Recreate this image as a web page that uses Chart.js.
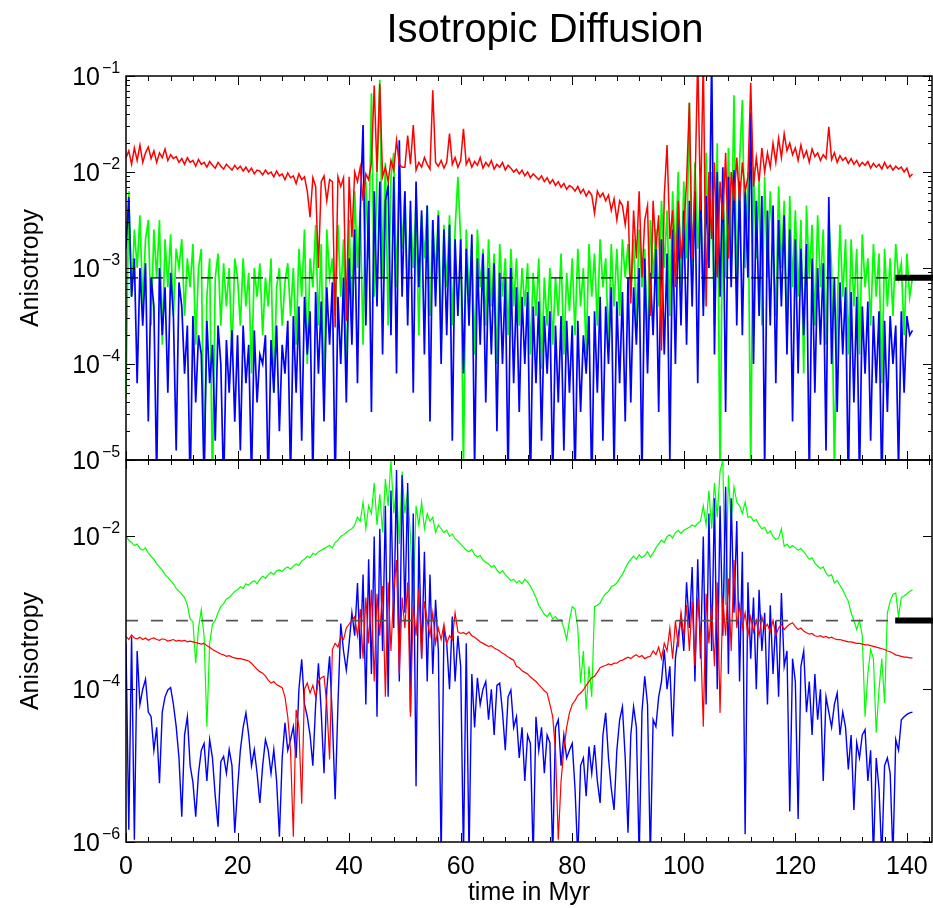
<!DOCTYPE html>
<html>
<head>
<meta charset="utf-8">
<title>Isotropic Diffusion</title>
<script src="https://cdn.jsdelivr.net/npm/chart.js@4.4.1/dist/chart.umd.min.js"></script>
<style>
  html, body { margin: 0; padding: 0; background: #fff; }
  #wrap { position: relative; width: 933px; height: 908px; }
  #wrap canvas { position: absolute; left: 0; top: 0; }
</style>
</head>
<body>
<div id="wrap">
  <canvas id="topChart" width="933" height="908"></canvas>
  <canvas id="bottomChart" width="933" height="908"></canvas>
</div>
<script>
// samples every 0.5 Myr from 0 to 141 Myr, values are log10(anisotropy)
const sampleStep = 0.5;
const xTickLabels = [0, 20, 40, 60, 80, 100, 120, 140];
const topDecades = [-5, -4, -3, -2, -1];
const bottomDecades = [-6, -4, -2];
const thresholdLevel = 7.9e-4;

const topRed = [
  -1.85,-1.78,-1.92,-1.75,-1.88,-1.72,-1.9,-1.8,-1.74,-1.86,-1.78,-1.9,-1.8,-1.85,-1.76,-1.88,-1.82,-1.86,-1.84,-1.9,
  -1.86,-1.92,-1.85,-1.9,-1.88,-1.94,-1.87,-1.92,-1.9,-1.95,-1.89,-1.93,-1.96,-1.9,-1.94,-1.97,-1.92,-1.95,-1.98,-1.93,
  -1.97,-1.94,-1.99,-1.95,-2.0,-1.96,-2.02,-1.98,-1.99,-2.03,-1.98,-2.02,-2.0,-2.05,-1.99,-2.04,-2.02,-2.08,-2.01,-2.06,
  -2.04,-2.12,-2.02,-2.08,-2.05,-2.2,-2.47,-2.06,-2.15,-3.0,-2.1,-2.04,-2.3,-2.08,-2.1,-3.62,-2.05,-2.15,-2.06,-3.55,
  -2.05,-2.68,-2.0,-2.1,-1.95,-2.3,-2.02,-2.08,-1.9,-1.1,-2.0,-1.08,-2.05,-1.95,-2.1,-1.88,-1.98,-1.67,-1.92,-1.95,
  -1.95,-1.62,-1.92,-1.51,-1.98,-1.9,-1.95,-1.85,-1.92,-1.97,-1.15,-1.9,-1.94,-1.88,-1.96,-1.9,-1.6,-1.92,-1.85,-1.95,
  -1.88,-1.55,-1.92,-1.86,-1.95,-1.89,-1.93,-1.85,-1.96,-1.9,-1.94,-1.88,-1.97,-1.92,-1.95,-1.9,-1.98,-1.93,-1.96,-2.0,
  -1.97,-2.02,-1.98,-2.04,-2.0,-2.06,-2.02,-2.05,-2.08,-2.04,-2.1,-2.06,-2.12,-2.08,-2.14,-2.1,-2.16,-2.12,-2.18,-2.14,
  -2.16,-2.2,-2.15,-2.22,-2.18,-2.25,-2.2,-2.24,-2.43,-2.2,-2.26,-2.22,-2.3,-2.24,-2.4,-2.28,-2.5,-2.3,-2.35,-2.55,
  -2.3,-3.37,-2.4,-2.9,-2.2,-3.1,-2.5,-2.35,-3.5,-2.3,-2.8,-2.45,-3.86,-2.25,-1.72,-2.7,-2.4,-3.2,-2.3,-2.9,
  -2.6,-2.1,-1.28,-2.9,-2.2,-0.8,-2.4,-0.8,-3.4,-2.0,-2.7,-1.9,-3.1,-2.1,-2.5,-1.8,-2.9,-2.0,-2.3,-1.85,
  -2.3,-1.9,-2.2,-2.05,-1.07,-2.15,-1.85,-2.1,-1.75,-2.0,-1.8,-1.95,-1.7,-1.9,-1.65,-1.85,-1.6,-1.78,-1.7,-1.82,
  -1.75,-1.88,-1.72,-1.85,-1.78,-1.9,-1.76,-1.84,-1.8,-1.88,-1.82,-1.86,-1.53,-1.87,-1.8,-1.9,-1.83,-1.88,-1.85,-1.91,
  -1.86,-1.92,-1.88,-1.94,-1.9,-1.93,-1.89,-1.96,-1.91,-1.95,-1.92,-1.97,-1.9,-1.96,-1.93,-1.98,-1.94,-1.97,-1.95,-2.0,
  -1.96,-2.05,-2.02
];

const topGreen = [
  -4.35,-2.2,-3.3,-2.6,-3.0,-2.45,-3.4,-2.7,-2.5,-3.6,-2.6,-3.1,-2.5,-3.8,-2.7,-3.2,-2.65,-3.5,-2.8,-3.0,
  -2.7,-3.5,-2.9,-3.2,-2.75,-3.8,-3.0,-2.8,-5.2,-3.3,-2.9,-5.3,-3.1,-2.85,-3.6,-2.95,-3.4,-3.0,-3.9,-2.9,
  -3.1,-3.6,-2.9,-3.4,-3.05,-4.1,-3.0,-3.3,-2.95,-3.7,-3.1,-3.4,-2.9,-4.3,-3.2,-3.0,-3.6,-3.15,-2.95,-3.5,
  -3.0,-3.8,-2.8,-3.3,-2.6,-4.0,-2.9,-3.2,-2.55,-3.6,-2.75,-4.4,-2.6,-3.1,-2.9,-3.5,-2.55,-3.3,-2.7,-4.2,
  -2.5,-3.5,-2.2,-3.0,-2.4,-3.8,-2.1,-2.9,-1.18,-3.3,-2.0,-1.04,-3.1,-1.9,-3.6,-2.05,-1.8,-3.2,-2.0,-2.8,
  -2.2,-3.4,-2.4,-3.0,-2.3,-3.7,-2.45,-2.9,-2.35,-3.5,-2.5,-3.1,-2.4,-3.8,-2.55,-3.2,-2.45,-3.6,-2.6,-2.05,
  -2.7,-5.1,-2.6,-3.3,-2.75,-3.9,-2.6,-3.2,-2.8,-3.6,-2.7,-3.4,-2.85,-4.0,-2.75,-3.3,-2.9,-3.7,-2.8,-3.4,
  -2.9,-3.6,-3.0,-3.4,-2.95,-3.9,-3.05,-3.5,-2.9,-4.05,-3.1,-3.6,-3.0,-3.8,-3.1,-3.5,-2.85,-3.9,-3.05,-3.45,
  -2.9,-3.7,-2.8,-3.4,-3.0,-3.9,-2.75,-3.3,-2.85,-3.6,-2.7,-3.2,-2.9,-3.8,-2.75,-3.4,-2.8,-3.5,-2.7,-3.1,
  -2.75,-3.3,-2.7,-3.6,-2.6,-3.2,-2.8,-3.9,-2.5,-3.1,-2.6,-3.4,-2.3,-3.0,-2.4,-3.5,-2.2,-2.9,-2.0,-3.2,
  -2.1,-2.9,-1.28,-3.2,-1.9,-2.8,-2.2,-3.4,-1.8,-3.0,-2.0,-3.6,-1.7,-5.2,-2.1,-3.1,-1.75,-2.9,-1.2,-3.3,
  -1.9,-1.25,-3.0,-2.0,-5.1,-1.95,-2.9,-2.1,-3.6,-2.05,-3.1,-2.2,-2.8,-3.5,-2.15,-3.0,-2.3,-3.7,-2.25,-3.2,
  -2.4,-3.3,-2.5,-4.1,-2.35,-3.1,-2.55,-3.6,-2.45,-3.2,-2.6,-3.8,-2.5,-3.0,-5.1,-3.5,-2.55,-3.3,-2.7,-3.9,
  -2.7,-3.4,-2.8,-3.9,-2.65,-3.2,-2.9,-3.6,-2.75,-3.3,-2.85,-4.2,-2.8,-3.4,-2.9,-3.5,-2.75,-3.1,-2.95,-3.7,
  -2.85,-3.3,-3.1
];

const topBlue = [
  -2.8,-2.26,-3.3,-2.9,-4.2,-3.0,-3.6,-2.95,-4.6,-3.1,-3.4,-5.2,-3.0,-3.7,-3.2,-4.3,-3.05,-3.5,-4.9,-3.15,
  -3.4,-4.1,-3.6,-5.3,-3.5,-4.4,-3.7,-3.9,-5.2,-3.55,-4.2,-3.8,-4.8,-3.6,-4.0,-5.3,-3.75,-4.3,-3.65,-4.6,
  -3.7,-4.9,-3.6,-4.2,-3.8,-5.2,-3.65,-4.4,-3.9,-4.0,-3.7,-5.3,-3.75,-4.3,-3.6,-4.7,-3.8,-4.1,-3.55,-5.2,
  -3.5,-4.3,-3.4,-4.8,-3.3,-3.9,-3.45,-5.2,-3.25,-4.1,-3.35,-4.6,-3.2,-3.8,-3.15,-5.3,-3.3,-4.0,-3.1,-4.4,
  -2.9,-3.8,-2.6,-4.2,-2.4,-1.51,-3.6,-2.3,-4.5,-2.2,-3.4,-2.1,-3.9,-2.3,-2.15,-3.7,-2.05,-4.1,-1.67,-3.3,
  -2.2,-3.6,-2.3,-4.3,-2.1,-3.2,-2.4,-3.9,-2.35,-4.6,-2.5,-3.4,-2.45,-4.0,-2.6,-3.7,-2.55,-4.8,-2.7,-3.5,
  -2.7,-4.1,-2.8,-3.6,-2.65,-5.1,-2.9,-3.8,-2.85,-4.4,-3.0,-3.9,-2.95,-4.7,-3.05,-4.0,-3.1,-5.2,-3.0,-4.2,
  -3.2,-4.5,-3.3,-4.0,-3.25,-5.3,-3.4,-4.2,-3.35,-4.8,-3.5,-4.1,-3.45,-5.2,-3.6,-4.4,-3.5,-4.9,-3.55,-4.3,
  -3.6,-5.2,-3.55,-4.5,-3.7,-4.1,-3.5,-5.3,-3.45,-4.3,-3.3,-4.8,-3.4,-4.0,-3.2,-5.1,-3.35,-4.2,-3.25,-4.6,
  -3.1,-4.4,-3.2,-3.8,-3.0,-5.2,-2.9,-4.1,-3.05,-3.7,-2.8,-4.5,-2.7,-3.9,-2.85,-5.0,-2.6,-4.0,-2.5,-3.6,
  -2.4,-3.8,-2.3,-3.4,-2.2,-4.2,-2.1,-3.5,-2.25,-3.0,-0.8,-3.9,-2.0,-3.3,-1.95,-4.5,-2.05,-3.2,-1.98,-3.6,
  -2.1,-3.7,-2.2,-3.1,-1.38,-4.0,-2.3,-3.5,-2.25,-5.1,-2.4,-3.6,-2.35,-4.2,-2.5,-3.4,-2.45,-3.9,-2.6,-4.6,
  -2.7,-4.1,-2.8,-3.7,-2.75,-5.2,-2.9,-4.3,-3.0,-3.8,-2.95,-4.9,-2.26,-4.0,-3.1,-4.5,-3.15,-3.9,-3.2,-5.3,
  -3.25,-4.4,-3.3,-5.2,-3.4,-4.1,-3.35,-4.8,-3.5,-4.2,-3.45,-5.3,-3.55,-4.5,-3.5,-4.0,-3.6,-5.1,-3.45,-4.3,
  -3.5,-3.7,-3.65
];

const bottomGreen = [
  -2.0,-2.05,-2.08,-2.12,-2.1,-2.16,-2.18,-2.15,-2.22,-2.26,-2.3,-2.36,-2.4,-2.44,-2.5,-2.54,-2.58,-2.62,-2.68,-2.72,
  -2.76,-2.8,-2.9,-3.08,-3.12,-3.66,-3.2,-2.96,-3.31,-4.49,-3.4,-3.15,-3.1,-3.0,-2.92,-2.88,-2.82,-2.8,-2.76,-2.72,
  -2.7,-2.66,-2.68,-2.62,-2.64,-2.6,-2.58,-2.62,-2.56,-2.52,-2.55,-2.5,-2.47,-2.5,-2.45,-2.44,-2.46,-2.42,-2.4,-2.43,
  -2.39,-2.36,-2.38,-2.32,-2.3,-2.26,-2.28,-2.22,-2.24,-2.2,-2.18,-2.16,-2.14,-2.12,-2.15,-2.08,-2.05,-2.0,-1.98,-1.95,
  -1.92,-1.9,-1.85,-1.75,-1.8,-1.55,-1.9,-1.6,-1.7,-1.3,-1.85,-1.45,-1.95,-1.25,-1.6,-1.0,-1.7,-1.35,-2.1,-1.15,
  -1.7,-1.4,-2.0,-2.9,-1.6,-1.85,-1.55,-1.9,-1.7,-1.8,-1.75,-1.95,-1.85,-1.9,-1.95,-1.92,-2.0,-1.97,-2.03,-2.06,
  -2.1,-2.14,-2.18,-2.2,-2.17,-2.24,-2.27,-2.25,-2.31,-2.34,-2.36,-2.4,-2.38,-2.44,-2.48,-2.45,-2.5,-2.54,-2.58,-2.56,
  -2.61,-2.58,-2.62,-2.56,-2.6,-2.65,-2.72,-2.8,-2.9,-2.96,-3.02,-3.05,-3.0,-3.08,-3.05,-3.1,-3.09,-3.2,-3.35,-3.1,
  -2.92,-2.95,-3.2,-3.92,-3.5,-4.27,-3.7,-4.1,-2.92,-2.9,-2.87,-2.8,-2.75,-2.72,-2.66,-2.64,-2.61,-2.55,-2.5,-2.42,
  -2.35,-2.3,-2.26,-2.3,-2.24,-2.28,-2.25,-2.2,-2.27,-2.22,-2.15,-2.1,-2.05,-2.08,-2.0,-1.98,-2.02,-1.95,-1.92,-1.96,
  -1.92,-1.9,-1.88,-1.85,-1.87,-1.83,-1.8,-1.6,-1.85,-1.4,-1.9,-1.3,-1.75,-1.15,-1.0,-2.9,-1.2,-1.8,-1.35,-1.55,
  -1.6,-1.7,-1.55,-1.75,-1.74,-1.8,-1.78,-1.85,-1.9,-1.88,-1.96,-1.93,-2.0,-2.04,-2.02,-1.9,-2.13,-2.1,-2.15,-2.12,
  -2.15,-2.18,-2.16,-2.2,-2.25,-2.3,-2.28,-2.35,-2.39,-2.42,-2.4,-2.48,-2.52,-2.5,-2.61,-2.58,-2.64,-2.7,-2.78,-2.85,
  -3.0,-3.1,-3.22,-3.1,-3.3,-4.36,-3.8,-3.48,-3.6,-4.57,-4.0,-3.6,-4.18,-3.0,-2.85,-2.76,-2.74,-3.05,-2.8,-2.78,
  -2.75,-2.72,-2.7
];

const bottomRed = [
  -3.31,-3.35,-3.29,-3.33,-3.34,-3.32,-3.35,-3.33,-3.36,-3.34,-3.33,-3.35,-3.36,-3.34,-3.35,-3.37,-3.36,-3.35,-3.37,-3.36,
  -3.37,-3.36,-3.38,-3.37,-3.38,-3.39,-3.4,-3.41,-3.4,-3.43,-3.45,-3.48,-3.5,-3.52,-3.54,-3.55,-3.57,-3.56,-3.58,-3.59,
  -3.6,-3.6,-3.61,-3.62,-3.63,-3.66,-3.7,-3.74,-3.77,-3.79,-3.83,-3.88,-3.92,-3.9,-3.94,-3.96,-3.98,-4.1,-4.36,-4.8,
  -5.93,-4.27,-4.5,-5.5,-4.0,-3.92,-4.05,-3.95,-4.1,-3.9,-3.85,-3.83,-4.2,-4.92,-3.48,-3.4,-3.45,-3.31,-3.35,-3.2,
  -3.15,-3.1,-3.05,-3.3,-2.95,-3.6,-2.8,-3.4,-2.7,-3.9,-2.75,-3.3,-2.65,-4.1,-2.6,-3.5,-2.7,-2.31,-3.8,-2.8,
  -3.2,-2.6,-4.36,-2.9,-3.3,-2.7,-3.6,-2.85,-3.1,-3.3,-3.0,-3.4,-3.2,-3.35,-3.15,-3.4,-3.3,-3.35,-3.0,-3.25,
  -3.27,-3.26,-3.28,-3.25,-3.3,-3.32,-3.35,-3.38,-3.4,-3.42,-3.44,-3.43,-3.46,-3.48,-3.5,-3.53,-3.55,-3.58,-3.6,-3.62,
  -3.7,-3.72,-3.76,-3.78,-3.8,-3.84,-3.87,-3.9,-3.94,-3.98,-4.02,-4.05,-4.2,-4.36,-4.8,-5.97,-5.2,-4.79,-4.5,-4.31,
  -4.2,-4.15,-4.08,-4.05,-4.01,-3.95,-3.9,-3.85,-3.83,-3.78,-3.72,-3.7,-3.69,-3.67,-3.68,-3.66,-3.66,-3.63,-3.62,-3.6,
  -3.58,-3.6,-3.57,-3.55,-3.58,-3.56,-3.6,-3.58,-3.57,-3.5,-3.55,-3.45,-3.6,-3.4,-3.5,-3.2,-3.6,-3.1,-3.45,-3.0,
  -3.3,-2.9,-3.5,-2.85,-3.7,-2.8,-3.3,-4.49,-2.75,-3.4,-2.9,-3.7,-2.6,-4.31,-2.8,-3.3,-2.55,-3.5,-2.31,-3.2,
  -2.9,-3.2,-3.0,-3.3,-3.05,-3.25,-3.1,-3.3,-3.05,-3.2,-3.15,-3.25,-3.1,-3.3,-3.2,-3.15,-3.22,-3.18,-3.15,-3.13,
  -3.18,-3.22,-3.2,-3.24,-3.26,-3.28,-3.27,-3.3,-3.31,-3.3,-3.32,-3.31,-3.33,-3.32,-3.34,-3.35,-3.35,-3.36,-3.37,-3.38,
  -3.38,-3.39,-3.4,-3.4,-3.41,-3.42,-3.42,-3.43,-3.44,-3.45,-3.46,-3.47,-3.48,-3.5,-3.51,-3.53,-3.55,-3.56,-3.57,-3.58,
  -3.58,-3.59,-3.59
];

const bottomBlue = [
  -3.4,-5.84,-3.31,-5.97,-3.5,-4.2,-4.0,-3.87,-4.3,-4.36,-4.8,-4.5,-5.23,-4.3,-4.1,-4.01,-3.98,-4.2,-4.49,-4.9,
  -5.67,-4.6,-4.36,-5.0,-5.22,-5.67,-5.1,-4.8,-4.71,-5.2,-4.66,-4.9,-5.4,-5.8,-4.95,-4.88,-5.1,-4.79,-5.0,-5.88,
  -5.3,-4.8,-4.5,-4.31,-4.6,-5.0,-4.79,-5.1,-5.49,-5.0,-4.66,-4.8,-5.1,-4.79,-5.2,-5.93,-4.9,-4.44,-4.8,-4.66,
  -4.49,-4.9,-4.0,-3.61,-4.2,-4.36,-4.6,-5.0,-4.2,-3.66,-4.3,-5.1,-4.0,-3.57,-4.4,-5.44,-4.2,-3.14,-3.5,-3.75,
  -3.4,-3.0,-3.3,-2.61,-3.6,-2.5,-4.2,-2.3,-3.8,-2.0,-4.36,-1.9,-3.5,-1.6,-4.1,-1.4,-3.2,-1.13,-3.9,-1.2,
  -3.0,-1.3,-4.3,-1.7,-5.27,-2.0,-3.6,-2.2,-3.9,-2.5,-3.8,-2.83,-3.5,-6.2,-3.2,-3.4,-4.0,-3.05,-3.9,-3.3,
  -3.7,-6.2,-3.4,-6.2,-3.8,-4.5,-3.85,-4.2,-4.0,-3.9,-4.4,-4.0,-4.6,-3.95,-3.92,-4.3,-4.8,-4.1,-4.01,-4.5,
  -4.36,-4.9,-4.5,-5.2,-4.6,-4.71,-6.2,-4.36,-4.8,-4.5,-5.1,-4.6,-4.7,-6.2,-4.5,-4.4,-5.0,-4.6,-4.9,-4.8,
  -4.71,-5.3,-6.2,-5.0,-4.9,-5.4,-4.75,-5.1,-4.73,-5.2,-5.49,-4.6,-4.31,-4.9,-5.3,-5.58,-4.8,-4.4,-4.23,-4.9,
  -5.88,-4.6,-4.23,-4.5,-6.2,-4.3,-3.83,-4.2,-6.2,-4.4,-4.49,-4.1,-3.9,-3.48,-4.0,-3.7,-4.62,-3.6,-3.3,-3.05,
  -3.5,-2.6,-3.2,-2.4,-3.9,-2.3,-3.6,-2.0,-4.2,-1.7,-3.5,-1.5,-4.0,-1.6,-3.3,-1.35,-3.8,-1.5,-3.0,-1.8,
  -3.9,-2.2,-5.9,-2.6,-3.6,-2.8,-4.0,-2.7,-3.5,-3.0,-4.2,-2.9,-3.8,-3.1,-4.1,-2.74,-3.7,-3.5,-5.6,-3.6,
  -3.9,-5.7,-3.7,-3.5,-4.3,-3.9,-4.6,-3.8,-4.4,-4.0,-5.2,-4.1,-4.3,-4.5,-4.2,-4.05,-4.6,-4.3,-4.5,-5.05,
  -4.6,-5.58,-4.7,-4.9,-4.6,-4.53,-5.2,-4.8,-6.2,-4.9,-5.3,-6.2,-5.0,-4.9,-5.1,-6.2,-4.66,-4.8,-4.4,-4.36,
  -4.33,-4.31,-4.3
];

const FONT = '"Liberation Sans", Arial, Helvetica, sans-serif';
const X_MAX = 144.5;
const BAR_START = 137.9;

function toPoints(logValues) {
    return logValues.map((v, i) => ({ x: i * sampleStep, y: Math.pow(10, v) }));
}

function seriesLine(label, values, color, width) {
    return {
        label: label,
        data: toPoints(values),
        borderColor: color,
        borderWidth: width,
        pointRadius: 0,
        tension: 0,
        fill: false
    };
}

function thresholdSets(dashColor, dashWidth) {
    return [
        {
            label: "threshold",
            data: [{ x: 0, y: thresholdLevel }, { x: BAR_START, y: thresholdLevel }],
            borderColor: dashColor,
            borderWidth: dashWidth,
            borderDash: [12, 13],
            pointRadius: 0
        },
        {
            label: "threshold bar",
            data: [{ x: BAR_START, y: thresholdLevel }, { x: 147, y: thresholdLevel }],
            borderColor: "#000",
            borderWidth: 6,
            borderCapStyle: "butt",
            pointRadius: 0,
            clip: false
        }
    ];
}

function drawPowerLabel(ctx, x, y, exp) {
    ctx.fillStyle = "#000";
    ctx.font = "25px " + FONT;
    ctx.textAlign = "right";
    ctx.textBaseline = "alphabetic";
    ctx.fillText("10", x, y + 9);
    ctx.font = "16px " + FONT;
    ctx.textAlign = "left";
    ctx.fillText("\u2212" + Math.abs(exp), x + 2, y - 3);
}

function drawYLabel(ctx, centerY) {
    ctx.save();
    ctx.translate(38, centerY);
    ctx.rotate(-Math.PI / 2);
    ctx.fillStyle = "#000";
    ctx.font = "25px " + FONT;
    ctx.textAlign = "center";
    ctx.textBaseline = "alphabetic";
    ctx.fillText("Anisotropy", 0, 0);
    ctx.restore();
}

// frame + inward tick marks on all four sides
function drawFrame(chart, decades, withMinor) {
    const ctx = chart.ctx;
    const a = chart.chartArea;
    const xs = chart.scales.x;
    const ys = chart.scales.y;
    ctx.save();
    ctx.strokeStyle = "#000";
    ctx.lineWidth = 1.5;
    ctx.strokeRect(a.left, a.top, a.right - a.left, a.bottom - a.top);

    ctx.lineWidth = 1;
    ctx.beginPath();
    for (let t = 0; t <= X_MAX; t += 4) {
        let px = Math.round(xs.getPixelForValue(t)) + 0.5;
        let len = (t % 20 === 0) ? 9 : 5;
        ctx.moveTo(px, a.bottom); ctx.lineTo(px, a.bottom - len);
        ctx.moveTo(px, a.top); ctx.lineTo(px, a.top + len);
    }
    decades.forEach(e => {
        let py = Math.round(ys.getPixelForValue(Math.pow(10, e))) + 0.5;
        ctx.moveTo(a.left, py); ctx.lineTo(a.left + 9, py);
        ctx.moveTo(a.right, py); ctx.lineTo(a.right - 9, py);
        if (withMinor && e < -1) {
            for (let k = 2; k <= 9; k++) {
                let pm = Math.round(ys.getPixelForValue(k * Math.pow(10, e))) + 0.5;
                ctx.moveTo(a.left, pm); ctx.lineTo(a.left + 4, pm);
                ctx.moveTo(a.right, pm); ctx.lineTo(a.right - 4, pm);
            }
        }
    });
    ctx.stroke();
    ctx.restore();
}

const topDecor = {
    id: "topDecor",
    afterDraw(chart) {
        const ctx = chart.ctx;
        drawFrame(chart, topDecades, true);
        topDecades.forEach(e => {
            drawPowerLabel(ctx, 100, chart.scales.y.getPixelForValue(Math.pow(10, e)), e);
        });
        drawYLabel(ctx, (chart.chartArea.top + chart.chartArea.bottom) / 2);
        ctx.save();
        ctx.fillStyle = "#000";
        ctx.font = "40px " + FONT;
        ctx.textAlign = "center";
        ctx.textBaseline = "alphabetic";
        ctx.fillText("Isotropic Diffusion", 545, 42);
        ctx.restore();
    }
};

const bottomDecor = {
    id: "bottomDecor",
    afterDraw(chart) {
        const ctx = chart.ctx;
        const a = chart.chartArea;
        drawFrame(chart, bottomDecades, false);
        bottomDecades.forEach(e => {
            drawPowerLabel(ctx, 100, chart.scales.y.getPixelForValue(Math.pow(10, e)), e);
        });
        drawYLabel(ctx, (a.top + a.bottom) / 2);
        ctx.save();
        ctx.fillStyle = "#000";
        ctx.font = "25px " + FONT;
        ctx.textAlign = "center";
        ctx.textBaseline = "alphabetic";
        xTickLabels.forEach(t => {
            ctx.fillText(String(t), chart.scales.x.getPixelForValue(t), a.bottom + 32);
        });
        ctx.fillText("time in Myr", (a.left + a.right) / 2, 900);
        ctx.restore();
    }
};

function makeChart(id, datasets, yMin, yMax, padding, plugin) {
    return new Chart(document.getElementById(id), {
        type: "line",
        data: { datasets: datasets },
        options: {
            responsive: false,
            animation: false,
            devicePixelRatio: 1,
            layout: { padding: padding },
            plugins: { legend: { display: false }, tooltip: { enabled: false } },
            scales: {
                x: { type: "linear", min: 0, max: X_MAX, display: false },
                y: { type: "logarithmic", min: yMin, max: yMax, display: false }
            }
        },
        plugins: [plugin]
    });
}

// first dataset is painted last (on top)
makeChart("topChart",
    thresholdSets("#000", 1.2).concat([
        seriesLine("red", topRed, "#ff0000", 1.5),
        seriesLine("blue", topBlue, "#0000ff", 1.7),
        seriesLine("green", topGreen, "#00ff00", 1.7)
    ]),
    1e-5, 1e-1, { left: 126, right: 1, top: 76, bottom: 448 }, topDecor);

makeChart("bottomChart",
    thresholdSets("#555", 1.8).concat([
        seriesLine("red", bottomRed, "#ff0000", 1.2),
        seriesLine("blue", bottomBlue, "#0000ff", 1.4),
        seriesLine("green", bottomGreen, "#00ff00", 1.2)
    ]),
    1e-6, 1e-1, { left: 126, right: 1, top: 460, bottom: 66 }, bottomDecor);
</script>
</body>
</html>
